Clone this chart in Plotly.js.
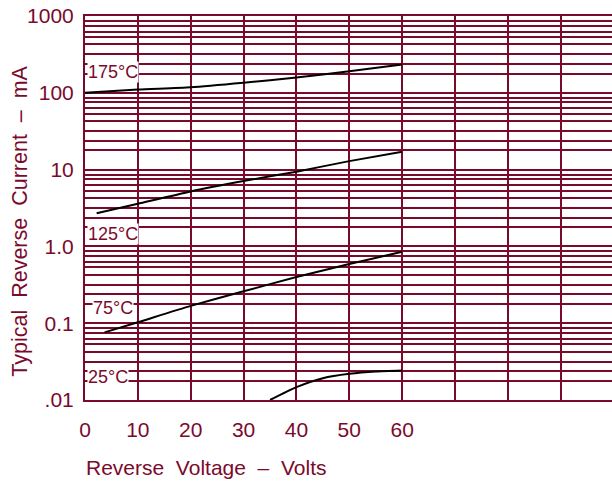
<!DOCTYPE html>
<html>
<head>
<meta charset="utf-8">
<script src="https://cdn.plot.ly/plotly-3.0.1.min.js"></script>
<style>html,body{margin:0;padding:0;background:#fff;}#chart{width:612px;height:481px;}</style>
</head>
<body>
<div id="chart"></div>
<script>
// Curves: reverse voltage (V) vs typical reverse current (mA)
const v175 = [0, 10, 20, 30, 40, 50, 60];
const i175 = [100, 110, 118, 135, 158, 191, 233];
const v125 = [2.2, 10, 20, 30, 40, 50, 60];
const i125 = [2.7, 3.6, 5.2, 7.1, 9.4, 12.9, 17.1];
const v75 = [3.7, 10, 20, 30, 40, 50, 60];
const i75 = [0.076, 0.103, 0.168, 0.26, 0.40, 0.59, 0.85];
const v25 = [35, 40, 45, 50, 55, 60];
const i25 = [0.0100, 0.0147, 0.0192, 0.0219, 0.0235, 0.0242];

const curveLabels = ['175°C', '125°C', '75°C', '25°C'];
const labelVolts = [0.35, 0.35, 1.3, 0.35];
const labelCurrents = [188, 1.43, 0.156, 0.020];

const xTickVals = [0, 10, 20, 30, 40, 50, 60, 70, 80, 90];
const xTickText = ['0', '10', '20', '30', '40', '50', '60', '', '', ''];
const yTickVals = [1000, 100, 10, 1, 0.1, 0.01];
const yTickText = ['1000', '100', '10', '1.0', '0.1', '.01'];
const decades = [0.01, 0.1, 1, 10, 100];
const gridMantissas = [1.78, 2.37, 3.17, 4.26, 5.33, 6.25, 7.48, 8.61];

const maroon = '#7A0A2C';
const minorVals = [];
decades.forEach(d => gridMantissas.forEach(m => minorVals.push(d * m)));

const curveLine = {color: '#000', width: 2, shape: 'spline', smoothing: 0.6};
const traces = [
  {x: v175, y: i175, mode: 'lines', line: curveLine, hoverinfo: 'skip'},
  {x: v125, y: i125, mode: 'lines', line: curveLine, hoverinfo: 'skip'},
  {x: v75, y: i75, mode: 'lines', line: curveLine, hoverinfo: 'skip'},
  {x: v25, y: i25, mode: 'lines', line: curveLine, hoverinfo: 'skip'}
];

const annotations = curveLabels.map((t, k) => ({
  text: t, x: labelVolts[k], y: Math.log10(labelCurrents[k]), xref: 'x', yref: 'y',
  xanchor: 'left', yanchor: 'middle', showarrow: false,
  bgcolor: '#fff', borderpad: 0,
  font: {family: 'Liberation Sans', size: 18, color: maroon}
}));
annotations.push({
  text: 'Reverse\u00a0\u00a0Voltage\u00a0\u00a0–\u00a0\u00a0Volts', xref: 'paper', yref: 'paper',
  x: -0.002, y: -0.175, xanchor: 'left', yanchor: 'middle', showarrow: false,
  font: {family: 'Liberation Sans', size: 21, color: maroon}
});
annotations.push({
  text: 'Typical\u00a0\u00a0Reverse\u00a0\u00a0Current\u00a0\u00a0–\u00a0\u00a0mA', xref: 'paper', yref: 'paper',
  x: -0.124, y: 0.466, xanchor: 'center', yanchor: 'middle', textangle: -90, showarrow: false,
  font: {family: 'Liberation Sans', size: 21.5, color: maroon}
});

const layout = {
  width: 612, height: 481,
  margin: {l: 85, r: 0, t: 16, b: 81, pad: 0},
  paper_bgcolor: '#fff', plot_bgcolor: '#fff',
  showlegend: false,
  font: {family: 'Liberation Sans', color: maroon},
  xaxis: {
    range: [0, 99.7], tickmode: 'array', tickvals: xTickVals, ticktext: xTickText,
    showgrid: true, gridcolor: maroon, gridwidth: 2, zeroline: false,
    showline: true, linecolor: maroon, linewidth: 2, mirror: true,
    ticks: '', ticklabelstandoff: 10,
    tickfont: {family: 'Liberation Sans', size: 21, color: maroon}
  },
  yaxis: {
    type: 'log', range: [-2, 3], tickmode: 'array', tickvals: yTickVals, ticktext: yTickText,
    showgrid: true, gridcolor: maroon, gridwidth: 2, zeroline: false,
    showline: true, linecolor: maroon, linewidth: 2,
    ticks: '', ticklabelstandoff: 5,
    tickfont: {family: 'Liberation Sans', size: 21, color: maroon},
    minor: {tickmode: 'array', tickvals: minorVals, showgrid: true, gridcolor: maroon, gridwidth: 2, ticks: ''}
  },
  annotations: annotations
};

Plotly.newPlot('chart', traces, layout, {staticPlot: true, displayModeBar: false});
</script>
</body>
</html>
